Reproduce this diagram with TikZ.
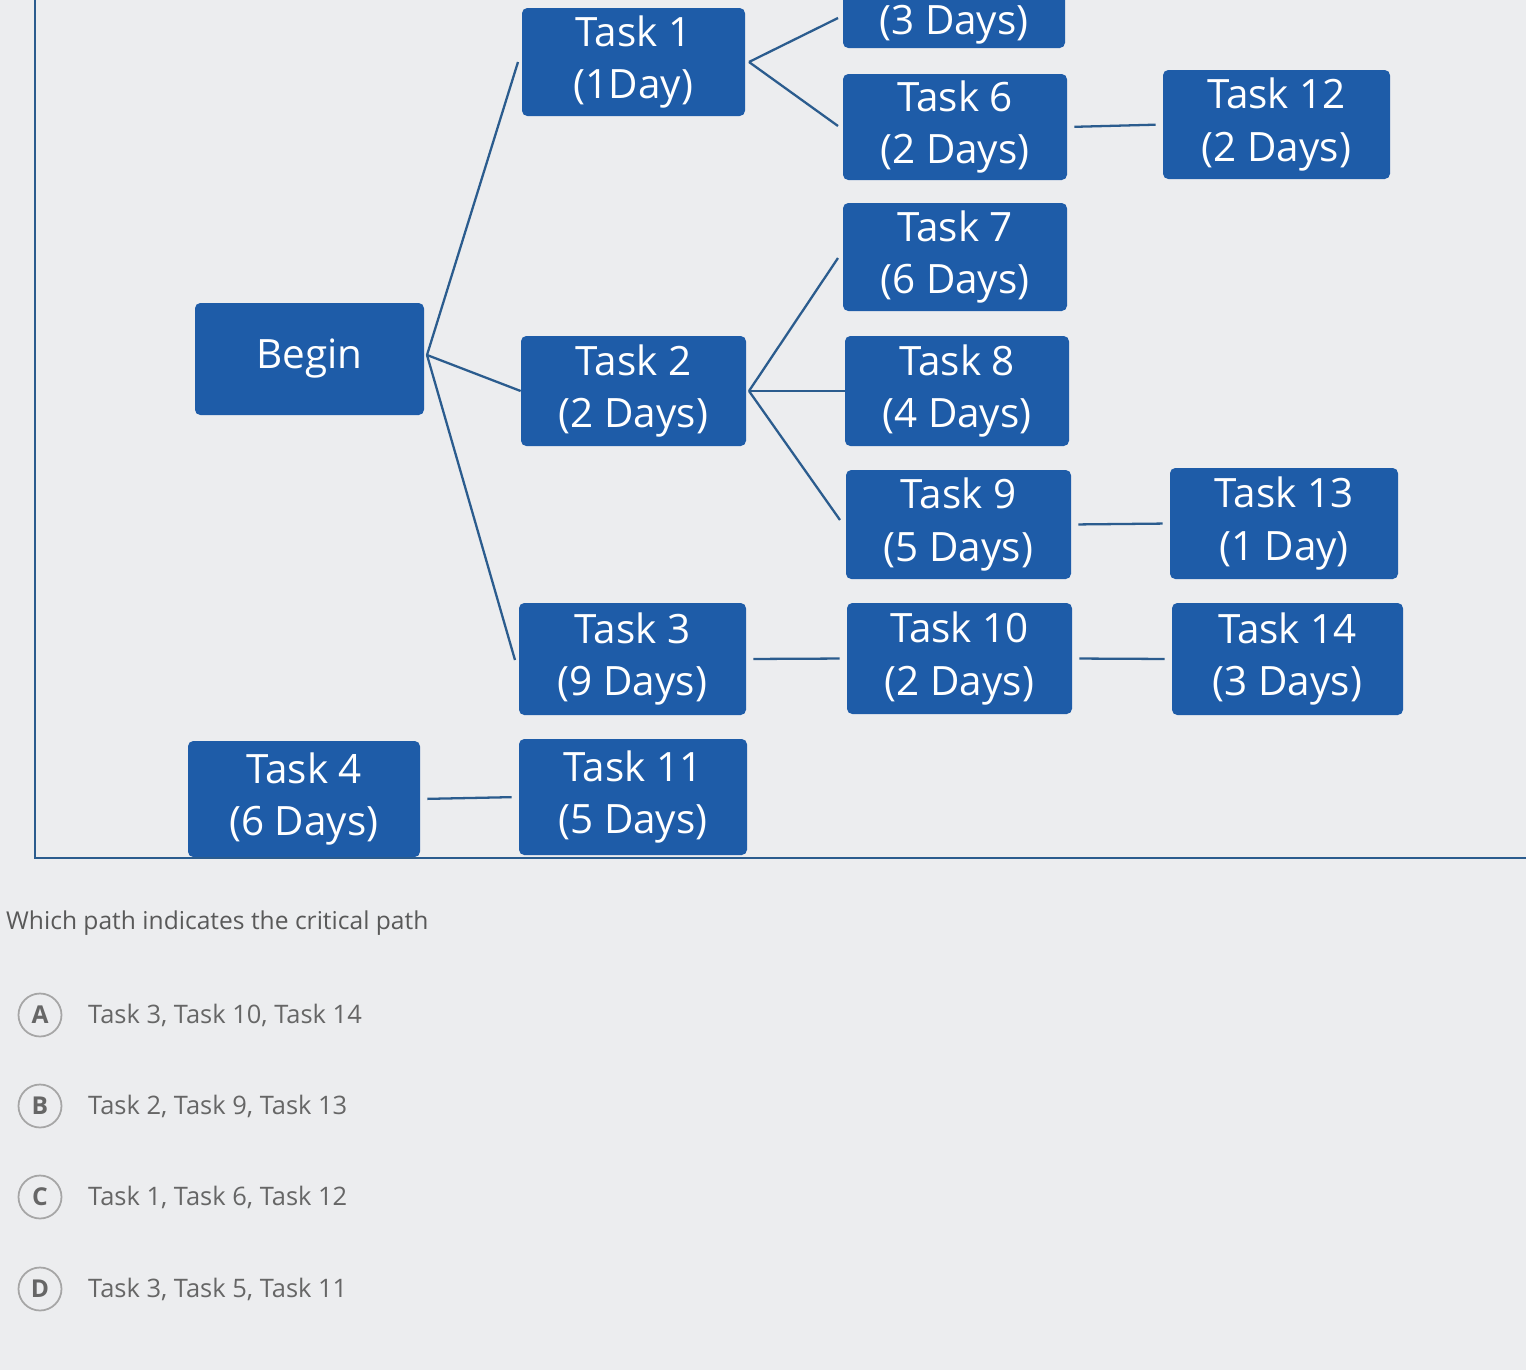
\documentclass[tikz,border=0pt]{standalone}
\usepackage{fontspec}
\setmainfont{Open Sans}
\begin{document}
\begin{tikzpicture}[x=0.02cm,y=-0.02cm,
 tbox/.style={draw=none,fill=boxblue,rounded corners=3pt,text=white,font=\fontsize{23}{30}\selectfont,align=center,inner sep=0pt},
 conn/.style={draw=lineblue,line width=1.3pt},
 opt/.style={font=\fontsize{14.5}{18}\selectfont,text=gray!80!black,anchor=west}]
\definecolor{boxblue}{HTML}{1E5CA8}
\definecolor{lineblue}{HTML}{2B5C8E}
\definecolor{bg}{HTML}{ECEDEF}
\useasboundingbox (0,0) rectangle (1526,1370);
\fill[bg] (0,0) rectangle (1526,1370);
\begin{scope}
\clip (0,0) rectangle (1526,1370);
\newcommand{\tb}[6]{\node[tbox,minimum width=(#4-#2)*0.02cm,minimum height=(#5-#3)*0.02cm] (#1) at ({(#2+#4)/2},{(#3+#5)/2}) {#6};}
\tb{t5}{843}{-70}{1065}{48}{}
\node[text=white,font=\fontsize{23}{30}\selectfont,inner sep=0pt] (t5txt) at (954,25) {(3 Days)};
\tb{t1}{522}{8}{745}{116}{Task 1\\(1Day)}
\tb{t6}{843}{74}{1067}{180}{Task 6\\(2 Days)}
\tb{t12}{1163}{70}{1390}{179}{Task 12\\(2 Days)}
\tb{t7}{843}{203}{1067}{311}{Task 7\\(6 Days)}
\tb{beg}{195}{303}{424}{415}{Begin}
\tb{t2}{521}{336}{746}{446}{Task 2\\(2 Days)}
\tb{t8}{845}{336}{1069}{446}{Task 8\\(4 Days)}
\tb{t9}{846}{470}{1071}{579}{Task 9\\(5 Days)}
\tb{t13}{1170}{468}{1398}{579}{Task 13\\(1 Day)}
\tb{t3}{519}{603}{746}{715}{Task 3\\(9 Days)}
\tb{t10}{847}{603}{1072}{714}{Task 10\\(2 Days)}
\tb{t14}{1172}{603}{1403}{715}{Task 14\\(3 Days)}
\tb{t4}{188}{741}{420}{857}{Task 4\\(6 Days)}
\tb{t11}{519}{739}{747}{855}{Task 11\\(5 Days)}
\end{scope}
\coordinate (bR) at (427,355);
\coordinate (aR) at (749,62);
\coordinate (cR) at (749,391);
\draw[conn] (bR) -- (518,62) coordinate (x1);
\draw[conn] (bR) -- (t2.west);
\draw[conn] (bR) -- (515,660) coordinate (x3);
\draw[conn] (aR) -- (838,18) coordinate (x5);
\draw[conn] (aR) -- (838,126) coordinate (x6);
\draw[conn] (cR) -- (838,258) coordinate (x7);
\draw[conn] (cR) -- (t8.west);
\draw[conn] (cR) -- (840,520) coordinate (x9);
\draw[conn,shorten <=4pt,shorten >=4pt] (t6.east) -- (t12.west);
\draw[conn,shorten <=4pt,shorten >=4pt] (t9.east) -- (t13.west);
\draw[conn,shorten <=4pt,shorten >=4pt] (t3.east) -- (t10.west);
\draw[conn,shorten <=4pt,shorten >=4pt] (t10.east) -- (t14.west);
\draw[conn,shorten <=4pt,shorten >=4pt] (t4.east) -- (t11.west);
\coordinate (f1) at (35,0); \coordinate (f2) at (35,858); \coordinate (f3) at (1526,858);
\draw[lineblue,line width=1pt] (f1) -- (f2) -- (f3);
\node[opt,text=gray!70!black,font=\fontsize{14}{17}\selectfont] (q) at (0,923) {Which path indicates the critical path};
\foreach \l/\y/\t in {A/1015/{Task 3, Task 10, Task 14},B/1106/{Task 2, Task 9, Task 13},C/1197/{Task 1, Task 6, Task 12},D/1289/{Task 3, Task 5, Task 11}}{
 \node[circle,draw=gray!70,line width=1pt,minimum size=0.86cm,inner sep=0pt,font=\bfseries\fontsize{14}{18}\selectfont,text=gray!80!black] (c\l) at (40,\y) {\l};
 \node[opt] (o\l) at (82,\y) {\t};
}
\end{tikzpicture}
\end{document}
